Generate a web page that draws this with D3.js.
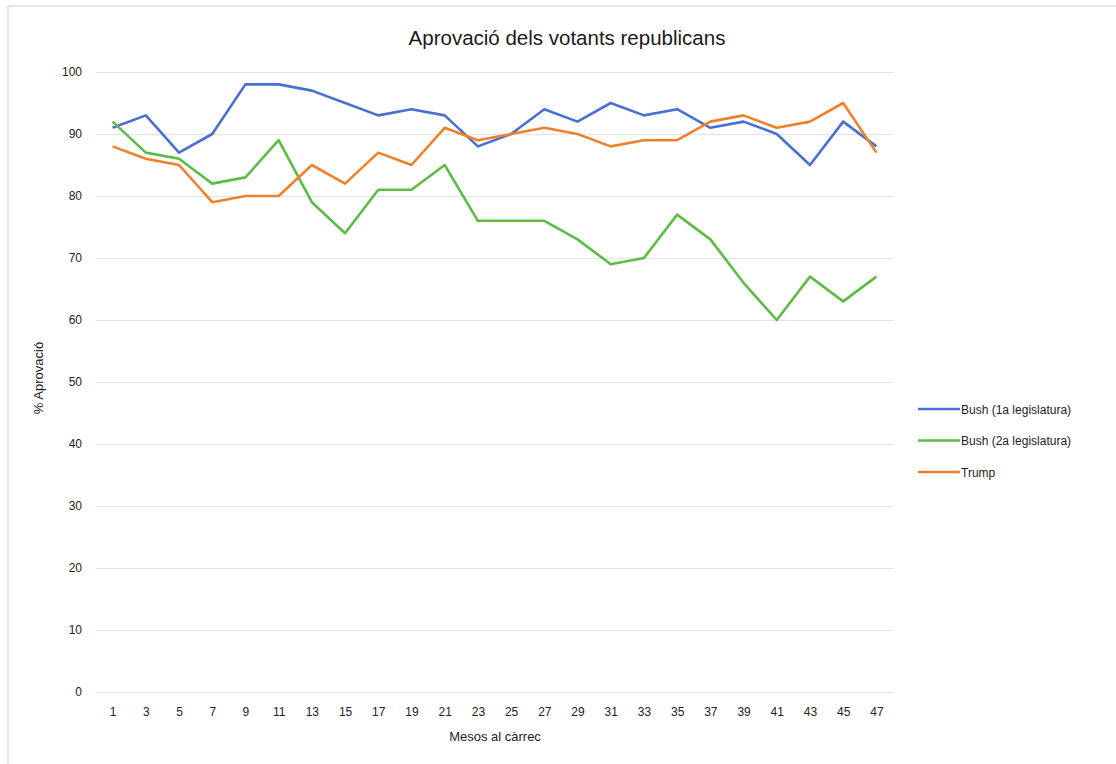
<!doctype html>
<html>
<head>
<meta charset="UTF-8">
<title>Aprovació dels votants republicans</title>
<script src="https://d3js.org/d3.v7.min.js"></script>
<style>
  body { margin: 0; background: #fff; }
  svg text { font-family: "Liberation Sans", Arial, sans-serif; }
</style>
</head>
<body>
<svg id="chart" width="1116" height="764"></svg>
<script>
var months = [1, 3, 5, 7, 9, 11, 13, 15, 17, 19, 21, 23, 25, 27, 29, 31, 33, 35, 37, 39, 41, 43, 45, 47];
var bush1 = [91, 93, 87, 90, 98, 98, 97, 95, 93, 94, 93, 88, 90, 94, 92, 95, 93, 94, 91, 92, 90, 85, 92, 88];
var bush2 = [92, 87, 86, 82, 83, 89, 79, 74, 81, 81, 85, 76, 76, 76, 73, 69, 70, 77, 73, 66, 60, 67, 63, 67];
var trump = [88, 86, 85, 79, 80, 80, 85, 82, 87, 85, 91, 89, 90, 91, 90, 88, 89, 89, 92, 93, 91, 92, 95, 87];
var yTicks = [0, 10, 20, 30, 40, 50, 60, 70, 80, 90, 100];
var seriesNames = ["Bush (1a legislatura)", "Bush (2a legislatura)", "Trump"];
var seriesColors = ["#4a6fd4", "#5cbd44", "#f0812a"];

var svg = d3.select("#chart");
// plot box (window.top is reserved, so use other names)
var pLeft = 96, pRight = 893, pTop = 72, pBottom = 692;

// frame
svg.append("rect")
    .attr("x", 8).attr("y", 6)
    .attr("width", 1120).attr("height", 780)
    .attr("fill", "none").attr("stroke", "#dcdcdc").attr("stroke-width", 1.5);

var x = d3.scalePoint().domain(months).range([pLeft, pRight]).padding(0.5);
var y = d3.scaleLinear().domain([0, 100]).range([pBottom, pTop]);

// gridlines + y labels
var yAxis = d3.axisLeft(y).tickValues(yTicks).tickSize(-(pRight - pLeft)).tickPadding(14);
var gy = svg.append("g").attr("transform", "translate(" + pLeft + ",0)").call(yAxis);
gy.select(".domain").remove();
gy.selectAll(".tick line").attr("stroke", "#e3e3e3").attr("stroke-width", 1.2);
gy.selectAll(".tick text").attr("fill", "#222").attr("font-size", 12);

// x labels
var xAxis = d3.axisBottom(x).tickSize(0).tickPadding(15);
var gx = svg.append("g").attr("transform", "translate(0," + pBottom + ")").call(xAxis);
gx.select(".domain").remove();
gx.selectAll(".tick text").attr("fill", "#222").attr("font-size", 12);

// lines
var data = [bush1, bush2, trump];
var line = d3.line()
    .x(function (d, i) { return x(months[i]); })
    .y(function (d) { return y(d); });

data.forEach(function (s, k) {
    svg.append("path")
        .datum(s)
        .attr("d", line)
        .attr("fill", "none")
        .attr("stroke", seriesColors[k])
        .attr("stroke-width", 2.6)
        .attr("stroke-linejoin", "round");
});

// title
svg.append("text")
    .attr("x", 567).attr("y", 45)
    .attr("text-anchor", "middle")
    .attr("font-size", 20.5)
    .attr("fill", "#1a1a1a")
    .text("Aprovació dels votants republicans");

// axis titles
svg.append("text")
    .attr("x", 495).attr("y", 741)
    .attr("text-anchor", "middle")
    .attr("font-size", 13)
    .attr("fill", "#222")
    .text("Mesos al càrrec");

svg.append("text")
    .attr("transform", "translate(43,378) rotate(-90)")
    .attr("text-anchor", "middle")
    .attr("font-size", 13)
    .attr("fill", "#222")
    .text("% Aprovació");

// legend
var legend = svg.append("g").attr("transform", "translate(918,409)");
seriesNames.forEach(function (n, k) {
    var g = legend.append("g").attr("transform", "translate(0," + (k * 31.5) + ")");
    g.append("line").attr("x1", 0).attr("x2", 42).attr("y1", 0).attr("y2", 0)
        .attr("stroke", seriesColors[k]).attr("stroke-width", 2.6);
    g.append("text").attr("x", 43).attr("y", 4.5)
        .attr("font-size", 12).attr("fill", "#222").text(n);
});
</script>
</body>
</html>
